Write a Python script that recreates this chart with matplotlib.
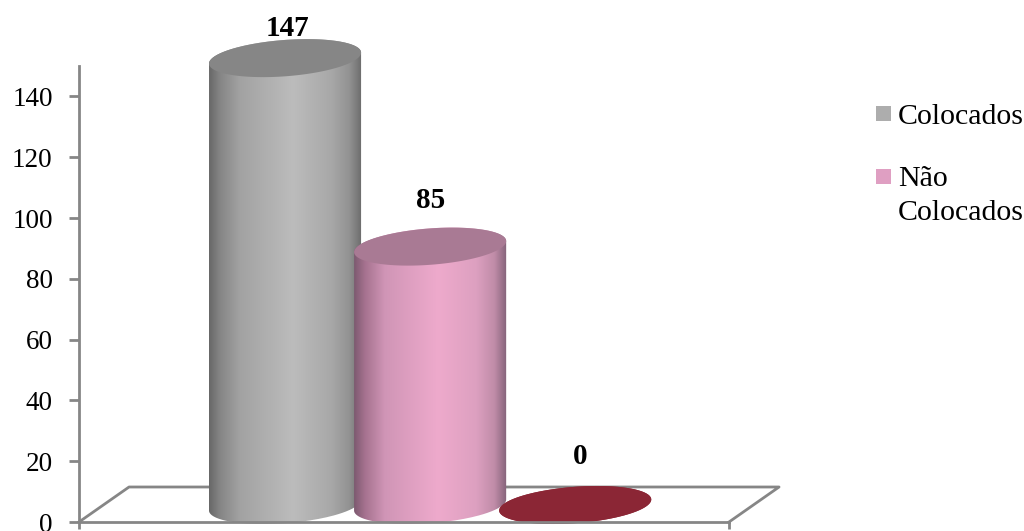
import numpy as np
import matplotlib
matplotlib.use('Agg')
import matplotlib.pyplot as plt
from matplotlib.colors import LinearSegmentedColormap
from matplotlib.patches import PathPatch, Rectangle
from matplotlib.path import Path

categories = ['Colocados', 'Não\nColocados', '']
values = [147, 85, 0]
y_ticks = [0, 20, 40, 60, 80, 100, 120, 140]

stops = [0, 0.07, 0.2, 0.55, 0.8, 0.92, 1]
side_colors = [
    ['#686868', '#858585', '#a2a2a2', '#bcbcbc', '#a8a8a8', '#929292', '#6c6c6c'],
    ['#7d5a70', '#a5728f', '#d095b6', '#eeaacc', '#dda0c0', '#c08ca8', '#85637a'],
    ['#8b2635', '#8b2635', '#8b2635', '#8b2635', '#8b2635', '#8b2635', '#8b2635'],
]
top_colors = ['#868686', '#a97a94', '#8b2635']
legend_colors = ['#adadad', '#df9fc2']

plt.rcParams['font.family'] = ['Liberation Serif', 'DejaVu Serif']

W, H = 1024, 531
fig = plt.figure(figsize=(W / 100, H / 100), dpi=100)
ax = fig.add_axes([79 / W, (H - 522) / H, 650 / W, 456 / H])
ax.set_xlim(-1.42, 3.06)
ax.set_ylim(0, 150)

# sizes of the fake 3d, in data units (145 px per category, 3.04 px per y unit)
half_w = 76 / 145
ell_h = 18.2 / 3.04
ell_tilt = 5.5 / 3.04
base = 17 / 3.04
depth_x = 50 / 145
depth_y = 35 / 3.04

GRID = '#868686'
x0, x1 = ax.get_xlim()
ax.plot([x0, x0 + depth_x, x1 + depth_x, x1], [0, depth_y, depth_y, 0],
        color=GRID, lw=2, clip_on=False, zorder=1)


def ellipse_xy(cx, cy, t):
    return cx + half_w * np.cos(t), cy + ell_tilt * np.cos(t) + ell_h * np.sin(t)


for i, val in enumerate(values):
    z = 3 + i
    top = base + val
    # body outline: lower half of the base, then the upper rim
    bx, by = ellipse_xy(i, base, np.linspace(0, -np.pi, 80))
    tx, ty = ellipse_xy(i, top, np.linspace(np.pi, 0, 80))
    verts = list(zip(bx, by)) + list(zip(tx, ty))
    verts.append(verts[0])
    cmap = LinearSegmentedColormap.from_list('c%d' % i, list(zip(stops, side_colors[i])))
    grad = np.linspace(0, 1, 256).reshape(1, -1)
    im = ax.imshow(grad, cmap=cmap, aspect='auto', zorder=z,
                   extent=[i - half_w, i + half_w, -5, top + 20])
    patch = PathPatch(Path(verts), transform=ax.transData, fc='none', ec='none')
    ax.add_patch(patch)
    im.set_clip_path(patch)
    im.set_clip_box(fig.bbox)

    ex, ey = ellipse_xy(i, top, np.linspace(0, 2 * np.pi, 160))
    ax.fill(ex, ey, color=top_colors[i], lw=0, zorder=z + 0.5, clip_on=False)

ax.set_xlim(x0, x1)
ax.set_ylim(0, 150)

label_dx = [2, 1, 5]
label_y = [28, 200, 457]
for i, val in enumerate(values):
    ax.annotate(str(val), xy=(i, 0), xycoords='data',
                xytext=(i * 145 + 285 + label_dx[i], H - label_y[i]),
                textcoords='figure pixels', ha='center', va='center',
                fontsize=21, fontweight='bold', color='black',
                annotation_clip=False, zorder=10)

for s in ['top', 'right']:
    ax.spines[s].set_visible(False)
for s in ['left', 'bottom']:
    ax.spines[s].set_color(GRID)
    ax.spines[s].set_linewidth(2)
    ax.spines[s].set_zorder(20)
ax.set_yticks(y_ticks)
ax.set_xticks([x0, x1])
ax.set_xticklabels(['', ''])
ax.tick_params(axis='both', color=GRID, width=2, length=5)
ax.tick_params(axis='y', labelsize=19.5, pad=12, length=7)
ax.patch.set_alpha(0)

# legend
leg_y = [114, 176]
for c, lab, ly in zip(legend_colors, categories, leg_y):
    fig.patches.append(Rectangle((876 / W, (H - ly - 7.5) / H), 15 / W, 15 / H,
                                 transform=fig.transFigure, fc=c, ec='none'))
    if '\n' in lab:
        fig.text(898 / W, (H - ly + 10) / H, lab, fontsize=21.5, va='top', ha='left',
                 linespacing=1.41)
    else:
        fig.text(898 / W, (H - ly - 3) / H, lab, fontsize=21.5, va='center', ha='left')

fig.savefig('out.png', dpi=100)
